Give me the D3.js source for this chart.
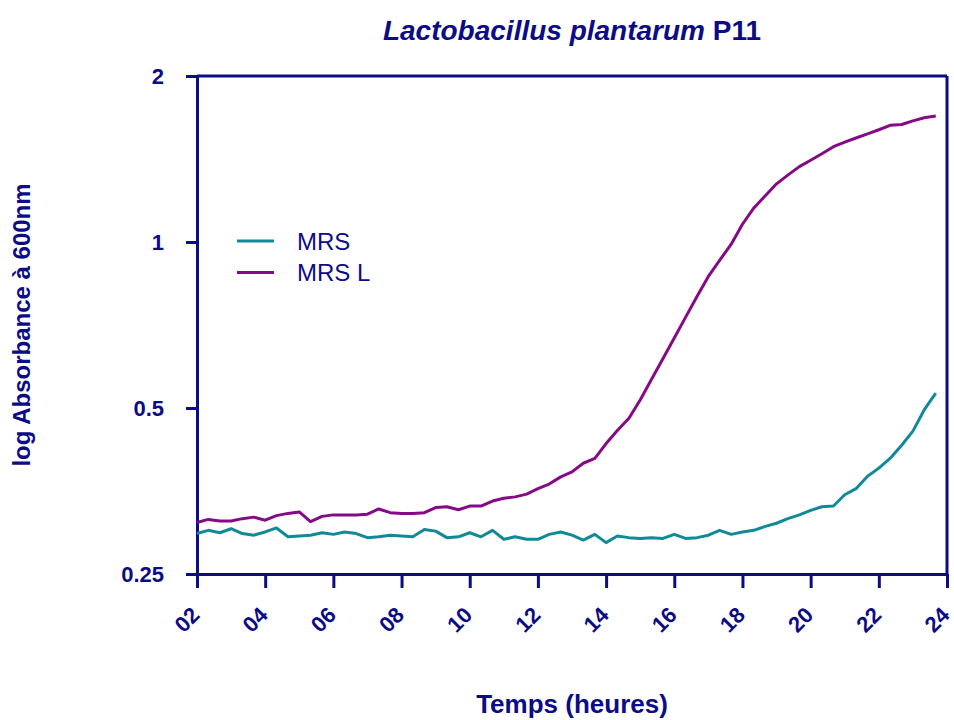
<!DOCTYPE html>
<html>
<head>
<meta charset="utf-8">
<script src="https://cdn.jsdelivr.net/npm/d3@7"></script>
<style>
  html, body { margin: 0; padding: 0; background: #fff; }
  svg { display: block; font-family: "Liberation Sans", Arial, sans-serif; }
</style>
</head>
<body>
<svg id="chart" width="954" height="720"></svg>
<script>
// ── data ─────────────────────────────────────────────
const TIMES = [2.00,2.33,2.67,3.00,3.33,3.67,4.00,4.33,4.67,5.00,5.33,5.67,6.00,6.33,6.67,7.00,7.33,7.67,8.00,8.33,8.67,9.00,9.33,9.67,10.00,10.33,10.67,11.00,11.33,11.67,12.00,12.33,12.67,13.00,13.33,13.67,14.00,14.33,14.67,15.00,15.33,15.67,16.00,16.33,16.67,17.00,17.33,17.67,18.00,18.33,18.67,19.00,19.33,19.67,20.00,20.33,20.67,21.00,21.33,21.67,22.00,22.33,22.67,23.00,23.33,23.67];

const MRS = [0.296,0.300,0.297,0.302,0.296,0.294,0.298,0.303,0.292,0.293,0.294,0.297,0.295,0.298,0.296,0.291,0.292,0.294,0.293,0.292,0.301,0.299,0.291,0.292,0.297,0.292,0.300,0.289,0.292,0.289,0.289,0.295,0.298,0.294,0.288,0.295,0.285,0.293,0.291,0.290,0.291,0.290,0.295,0.290,0.291,0.294,0.300,0.295,0.298,0.300,0.305,0.309,0.315,0.320,0.326,0.331,0.332,0.348,0.357,0.376,0.389,0.405,0.428,0.454,0.496,0.532];

const MRS_L = [0.310,0.314,0.312,0.312,0.315,0.317,0.313,0.319,0.322,0.324,0.311,0.318,0.320,0.320,0.320,0.321,0.328,0.323,0.322,0.322,0.323,0.330,0.331,0.327,0.332,0.332,0.339,0.343,0.345,0.349,0.357,0.364,0.375,0.383,0.397,0.405,0.431,0.455,0.479,0.517,0.563,0.615,0.670,0.730,0.797,0.866,0.926,0.991,1.077,1.152,1.213,1.275,1.322,1.370,1.407,1.446,1.489,1.518,1.544,1.571,1.598,1.628,1.633,1.658,1.680,1.692];

const SERIES_NAMES = ['MRS', 'MRS L'];
const X_TICKS = [2,4,6,8,10,12,14,16,18,20,22,24];
const Y_TICKS = [0.25, 0.5, 1, 2];

// ── style ────────────────────────────────────────────
const NAVY = '#0c0c86';
const COLOR = { 'MRS': '#118a98', 'MRS L': '#850a85' };

const M = { left: 197, right: 947, top: 76, bottom: 574 };

const svg = d3.select('#chart');

const x = d3.scaleLinear().domain([2, 24]).range([M.left, M.right]);
const y = d3.scaleLog().domain([0.25, 2]).range([M.bottom, M.top]);

// ── axes ─────────────────────────────────────────────
const yAxis = svg.append('g')
  .attr('transform', `translate(${M.left},0)`)
  .call(d3.axisLeft(y).tickValues(Y_TICKS).tickFormat(d => String(d)).tickSize(11).tickSizeOuter(0).tickPadding(22));

const xAxis = svg.append('g')
  .attr('transform', `translate(0,${M.bottom})`)
  .call(d3.axisBottom(x).tickValues(X_TICKS).tickFormat(d => String(d).padStart(2, '0')).tickSize(14).tickSizeOuter(0));

[yAxis, xAxis].forEach(g => {
  g.selectAll('path.domain').attr('stroke', NAVY).attr('stroke-width', 3);
  g.selectAll('.tick line').attr('stroke', NAVY).attr('stroke-width', 3);
  g.selectAll('.tick text')
    .attr('fill', NAVY)
    .style('font-weight', 'bold')
    .style('font-size', '22px')
    .style('font-family', '"Liberation Sans", Arial, sans-serif');
});

xAxis.selectAll('.tick text')
  .attr('text-anchor', 'end')
  .attr('transform', 'translate(-2,37) rotate(-45)')
  .attr('x', 0).attr('y', 0).attr('dy', '0.35em');

// top and right frame
svg.append('line')
  .attr('x1', M.left).attr('x2', M.right).attr('y1', M.top).attr('y2', M.top)
  .attr('stroke', NAVY).attr('stroke-width', 3);
svg.append('line')
  .attr('x1', M.right).attr('x2', M.right).attr('y1', M.top).attr('y2', M.bottom)
  .attr('stroke', NAVY).attr('stroke-width', 3);

// ── lines ────────────────────────────────────────────
const line = d3.line()
  .x((d, i) => x(TIMES[i]))
  .y(d => y(d));

[[SERIES_NAMES[0], MRS], [SERIES_NAMES[1], MRS_L]].forEach(([name, vals]) => {
  svg.append('path')
    .datum(vals)
    .attr('d', line)
    .attr('fill', 'none')
    .attr('stroke', COLOR[name])
    .attr('stroke-width', 3)
    .attr('stroke-linejoin', 'round');
});

// ── legend ───────────────────────────────────────────
const legend = svg.append('g').attr('transform', 'translate(237,241)');
SERIES_NAMES.forEach((name, i) => {
  const g = legend.append('g').attr('transform', `translate(0,${i * 31.5})`);
  g.append('line')
    .attr('x1', 0).attr('x2', 37).attr('y1', 0).attr('y2', 0)
    .attr('stroke', COLOR[name]).attr('stroke-width', 3);
  g.append('text')
    .attr('x', 60).attr('y', 8.5)
    .attr('fill', NAVY)
    .style('font-size', '24px')
    .text(name);
});

// ── titles ───────────────────────────────────────────
const title = svg.append('text')
  .attr('x', (M.left + M.right) / 2)
  .attr('y', 40)
  .attr('text-anchor', 'middle')
  .attr('fill', NAVY)
  .style('font-size', '28px')
  .style('font-weight', 'bold');
title.append('tspan').style('font-style', 'italic').text('Lactobacillus plantarum');
title.append('tspan').text(' P11');

svg.append('text')
  .attr('x', (M.left + M.right) / 2)
  .attr('y', 713)
  .attr('text-anchor', 'middle')
  .attr('fill', NAVY)
  .style('font-size', '26px')
  .style('font-weight', 'bold')
  .text('Temps (heures)');

svg.append('text')
  .attr('transform', 'translate(30,325) rotate(-90)')
  .attr('text-anchor', 'middle')
  .attr('fill', NAVY)
  .style('font-size', '24px')
  .style('font-weight', 'bold')
  .text('log Absorbance à 600nm');
</script>
</body>
</html>
